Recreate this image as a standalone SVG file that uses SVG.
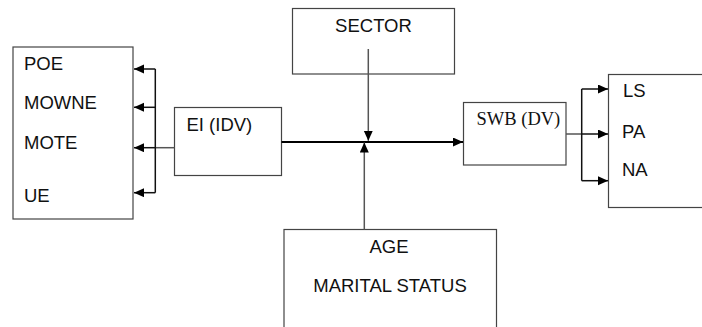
<svg xmlns="http://www.w3.org/2000/svg" width="702" height="327" viewBox="0 0 702 327">
<style>
.box{fill:#fff;stroke:#444;stroke-width:1.2}
.t{font-family:"Liberation Sans",Arial,sans-serif;font-size:18.5px;fill:#111}
.ts{font-family:"Liberation Serif","Times New Roman",serif;font-size:18.5px;fill:#111}
.c{fill:none;stroke:#111;stroke-width:1.5}
.cg{fill:none;stroke:#555;stroke-width:1.5}
.cm{fill:none;stroke:#000;stroke-width:2}
</style>
<defs>
<marker id="ah" markerUnits="userSpaceOnUse" markerWidth="11" markerHeight="10" refX="10" refY="4.5" orient="auto">
<path d="M0,0 L10,4.5 L0,9 z" fill="#000"/>
</marker>
</defs>
<rect width="702" height="327" fill="#fff"/>
<g id="outcomes-left">
<rect class="box" x="13" y="47" width="120" height="172"/>
<text class="t" x="24" y="70">POE</text>
<text class="t" x="24" y="109">MOWNE</text>
<text class="t" x="24" y="148.5">MOTE</text>
<text class="t" x="24" y="202">UE</text>
</g>
<g id="ei">
<rect class="box" x="174.5" y="107.5" width="107" height="68"/>
<text class="t" x="186.5" y="131">EI (IDV)</text>
</g>
<g id="sector">
<rect class="box" x="292.5" y="8.5" width="162" height="65.5"/>
<text class="t" x="373.5" y="32" text-anchor="middle">SECTOR</text>
</g>
<g id="age">
<rect class="box" x="284" y="229.5" width="212.5" height="110"/>
<text class="t" x="389" y="253" text-anchor="middle">AGE</text>
<text class="t" x="390" y="292" text-anchor="middle">MARITAL STATUS</text>
</g>
<g id="swb">
<rect class="box" x="463.5" y="102.5" width="102.5" height="62.5"/>
<text class="ts" x="476.5" y="125">SWB (DV)</text>
</g>
<g id="outcomes-right">
<rect class="box" x="608.5" y="74.5" width="110" height="133"/>
<text class="t" x="623" y="97">LS</text>
<text class="t" x="622" y="137.5">PA</text>
<text class="t" x="622" y="176">NA</text>
</g>
<g id="connectors">
<path class="cg" d="M174.5,147.7 H155.3"/>
<path class="c" d="M155.3,69 V192.7"/>
<path class="c" d="M155.3,69 H134" marker-end="url(#ah)"/>
<path class="c" d="M155.3,107.3 H134" marker-end="url(#ah)"/>
<path class="c" d="M155.3,147.7 H134" marker-end="url(#ah)"/>
<path class="c" d="M155.3,192.7 H134" marker-end="url(#ah)"/>
<path class="cm" d="M281.5,142 H463" marker-end="url(#ah)"/>
<path class="cg" d="M368.3,49 V140.8" marker-end="url(#ah)"/>
<path class="cg" d="M364.3,229.5 V142.5" marker-end="url(#ah)"/>
<path class="cg" d="M566,134 H581.7"/>
<path class="c" d="M581.7,89 V180.7"/>
<path class="c" d="M581.7,89 H608" marker-end="url(#ah)"/>
<path class="c" d="M581.7,134 H608" marker-end="url(#ah)"/>
<path class="c" d="M581.7,180.7 H608" marker-end="url(#ah)"/>
</g>
</svg>
